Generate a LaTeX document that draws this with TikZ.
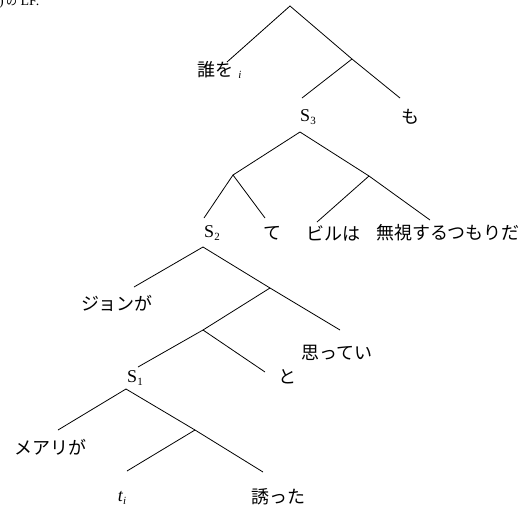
\documentclass[tikz,border=0pt]{standalone}
\usepackage{fontspec}
\setmainfont{Liberation Serif}
\newfontfamily\jp{Noto Sans CJK JP}
\newcommand{\sbs}[1]{\raisebox{-0.35ex}{\fontsize{11}{11}\selectfont #1}}
\begin{document}
\begin{tikzpicture}[x=1pt,y=-1pt,
  br/.style={line width=0.8pt, black},
  jtext/.style={inner sep=0pt, font=\jp\fontsize{18}{18}\selectfont},
  ltext/.style={inner sep=0pt, font=\fontsize{18}{18}\selectfont}]
\useasboundingbox (0,0) rectangle (531,507);
% partially visible heading
\node[inner sep=0pt, anchor=base west, font=\fontsize{14}{14}\selectfont] (head) at (-1,5) {)\,{\jp\fontsize{11}{11}\selectfont の} LF.};
% level 1
\coordinate (R) at (290,6);
\coordinate (A1) at (352,59);
\coordinate (eDare) at (227,62);
\coordinate (eS3) at (302,98);
\coordinate (eMo) at (400,98);
\node[jtext] (dare) at (215,70) {誰を};
\node[ltext, font=\fontsize{11}{11}\selectfont\itshape, inner sep=0pt] (di) at (240,75) {i};
\node[ltext] (S3) at (308,117) {S\sbs{3}};
\node[jtext] (mo) at (410,117) {も};
\draw[br] (eDare) -- (R) -- (A1) -- (eMo);
\draw[br] (A1) -- (eS3);
% level 2
\coordinate (S3a) at (300,132);
\coordinate (B1) at (233,175);
\coordinate (B2) at (369,176);
\coordinate (eS2) at (204,218);
\coordinate (eTe) at (265,218);
\coordinate (eBill) at (317,222);
\coordinate (eMushi) at (430,220);
\node[ltext] (S2) at (212,233) {S\sbs{2}};
\node[jtext] (te) at (272,233) {て};
\node[jtext] (bill) at (333,233) {ビルは};
\node[jtext] (mushi) at (448,233) {無視するつもりだ};
\draw[br] (B1) -- (S3a) -- (B2);
\draw[br] (eS2) -- (B1) -- (eTe);
\draw[br] (eBill) -- (B2) -- (eMushi);
% level 3
\coordinate (S2a) at (203,247);
\coordinate (C1) at (270,288);
\coordinate (C2) at (203,330);
\coordinate (eJon) at (134,287);
\coordinate (eOmo) at (340,330);
\coordinate (eS1) at (138,367);
\coordinate (eTo) at (265,372);
\node[jtext] (jon) at (117,303) {ジョンが};
\node[jtext] (omo) at (337,353) {思ってい};
\node[ltext] (S1) at (135,378) {S\sbs{1}};
\node[jtext] (to) at (287,377) {と};
\draw[br] (eJon) -- (S2a) -- (C1) -- (eOmo);
\draw[br] (C1) -- (C2) -- (eS1);
\draw[br] (C2) -- (eTo);
% level 4
\coordinate (S1a) at (126,389);
\coordinate (D1) at (195,430);
\coordinate (eMary) at (58,430);
\coordinate (eTi) at (127,471);
\coordinate (eSasou) at (263,472);
\node[jtext] (mary) at (51,447) {メアリが};
\node[ltext] (ti) at (122,498) {\textit{t}\sbs{\textit{i}}};
\node[jtext] (sasou) at (278,497) {誘った};
\draw[br] (eMary) -- (S1a) -- (D1) -- (eSasou);
\draw[br] (D1) -- (eTi);
\end{tikzpicture}
\end{document}
